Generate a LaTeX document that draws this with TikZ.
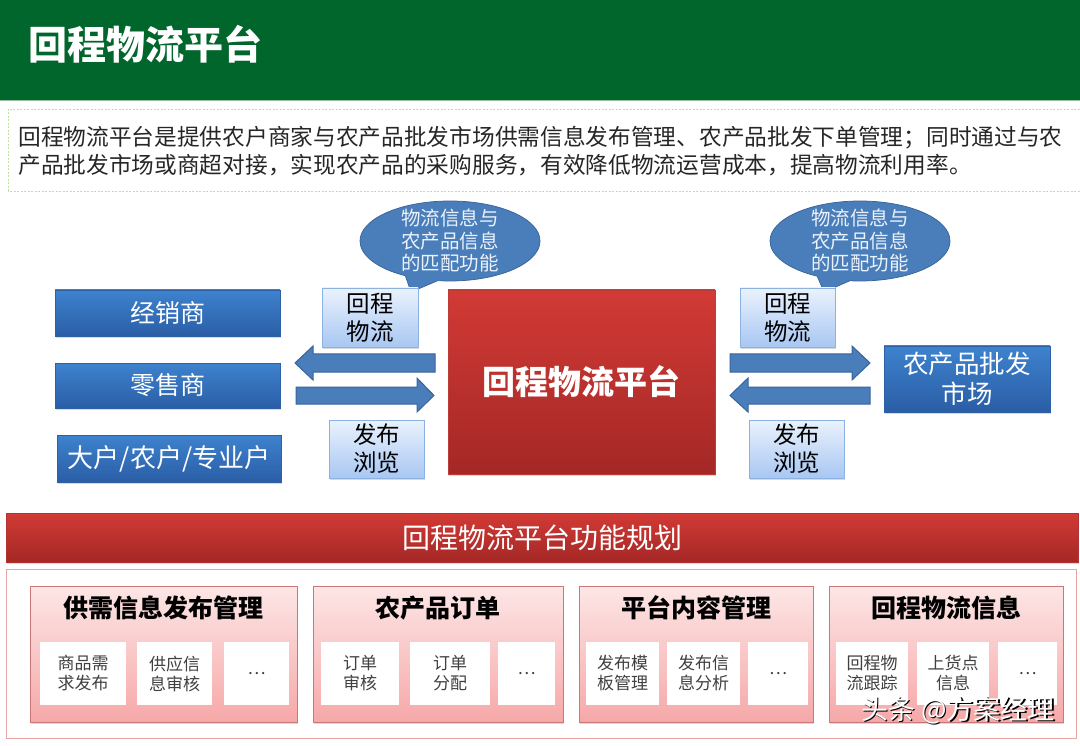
\documentclass[tikz,border=0pt]{standalone}
\usepackage{fontspec}
\setmainfont{Noto Sans CJK SC}
\usetikzlibrary{shapes.callouts,shadows}

\definecolor{hdgreen}{RGB}{0,130,62}
\definecolor{hddark}{RGB}{0,102,44}
\definecolor{dashgreen}{RGB}{196,222,160}
\definecolor{boxblue}{RGB}{62,130,206}
\definecolor{boxbluedk}{RGB}{42,94,166}
\definecolor{bordblue}{RGB}{46,96,164}
\definecolor{paleblue}{RGB}{234,242,253}
\definecolor{paleblue2}{RGB}{168,199,242}
\definecolor{bordpale}{RGB}{140,178,226}
\definecolor{bubfill}{RGB}{74,126,187}
\definecolor{bubline}{RGB}{56,100,154}
\definecolor{platred}{RGB}{210,58,53}
\definecolor{platreddk}{RGB}{164,40,38}
\definecolor{pinktop}{RGB}{253,230,230}
\definecolor{pinkbot}{RGB}{246,168,168}
\definecolor{pinkline}{RGB}{200,120,120}
\definecolor{panelline}{RGB}{232,165,165}
\definecolor{txtgray}{RGB}{64,64,64}

\tikzset{every picture/.style={line width=0.75pt}}
\tikzset{
  softshadow/.style={drop shadow={shadow xshift=1.2pt,shadow yshift=-1.8pt,opacity=.3}},
  rolebox/.style={draw=bordblue,top color=boxblue,bottom color=boxbluedk,text=white,
    inner sep=0pt,align=center,softshadow,font=\fontsize{25}{30}\selectfont},
  tagbox/.style={draw=bordpale,top color=paleblue,bottom color=paleblue2,text=black,
    inner sep=0pt,align=center,softshadow,font=\fontsize{23.5}{28}\selectfont},
  bubble/.style={ellipse callout,draw=bubline,fill=bubfill,inner sep=0pt,
    minimum width=180pt,minimum height=80pt,callout pointer arc=22},
  bubtext/.style={text={rgb,255:red,236;green,242;blue,250},align=center,
    font=\fontsize{19.5}{22.5}\selectfont},
  fatarrow/.style={draw=bubline,fill=bubfill,line width=1pt},
  groupbox/.style={draw=pinkline,top color=pinktop,bottom color=pinkbot,
    inner sep=0pt,softshadow},
  grouptitle/.style={font=\bfseries\fontsize{25}{30}\selectfont,text=black},
  itembox/.style={fill=white,inner sep=0pt,align=center,text=txtgray,
    font=\fontsize{17}{20}\selectfont,minimum height=63pt}
}

\begin{document}
\begin{tikzpicture}[x=1pt,y=1pt,yscale=-1,xscale=1]
\useasboundingbox (0,0) rectangle (1080,746);

%Header band
\shade[top color=hddark,middle color=hdgreen,bottom color=hddark] (0,0) rectangle (1080,100);
\draw[color={rgb,255:red,150;green,190;blue,160}] (0,100) -- (1080,100);
\node[anchor=west,text=white,font=\bfseries\fontsize{39}{44}\selectfont,inner sep=0pt] (title) at (28,44) {回程物流平台};

%Description box
\draw[dashgreen,dash pattern=on 2pt off 1.5pt] (8,109) rectangle (1090,191);
\node[anchor=west,align=left,inner sep=0pt,text={rgb,255:red,38;green,38;blue,38},
  font=\fontsize{22.7}{28}\selectfont] (desc) at (18,151)
  {回程物流平台是提供农户商家与农产品批发市场供需信息发布管理、农产品批发下单管理；同时通过与农\\
   产品批发市场或商超对接，实现农产品的采购服务，有效降低物流运营成本，提高物流利用率。};

%Roles on the left
\node[rolebox,minimum width=225pt,minimum height=46pt] (dealer) at (167.5,313) {经销商};
\node[rolebox,minimum width=225pt,minimum height=45pt] (retail) at (167.5,385.5) {零售商};
\node[rolebox,minimum width=224pt,minimum height=47pt,font=\fontsize{26}{30}\selectfont] (farmer) at (169,458.5) {大户/农户/专业户};

%Platform
\node[draw={rgb,255:red,190;green,60;blue,56},top color=platred,bottom color=platreddk,
  minimum width=267pt,minimum height=184pt,inner sep=0pt,softshadow,text=white,
  font=\bfseries\fontsize{33}{38}\selectfont] (plat) at (581.5,382) {回程物流平台};

%Market
\node[rolebox,minimum width=166pt,minimum height=66pt,font=\fontsize{25.5}{30}\selectfont] (market) at (967,379) {农产品批发\\市场};

%Callouts
\node[bubble,callout absolute pointer={(411,292)}] (lbub) at (450,241) {};
\node[bubtext] (lbubtxt) at (lbub.center) {物流信息与\\农产品信息\\的匹配功能};
\node[bubble,callout absolute pointer={(824,292)}] (rbub) at (860,241) {};
\node[bubtext] (rbubtxt) at (rbub.center) {物流信息与\\农产品信息\\的匹配功能};

%Tags
\node[tagbox,minimum width=96pt,minimum height=59pt] (ltrip) at (370,317.5) {回程\\物流};
\node[tagbox,minimum width=95pt,minimum height=59pt] (rtrip) at (787.5,317.5) {回程\\物流};
\node[tagbox,minimum width=95pt,minimum height=58pt] (lpub) at (376.5,449) {发布\\浏览};
\node[tagbox,minimum width=95pt,minimum height=58pt] (rpub) at (796.5,449) {发布\\浏览};

%Block arrows
\draw[fatarrow] (435,354) -- (313,354) -- (313,346) -- (295,363) -- (313,380) -- (313,372) -- (435,372) -- cycle;
\draw[fatarrow] (296,387) -- (417,387) -- (417,378) -- (434,395.5) -- (417,412) -- (417,404) -- (296,404) -- cycle;
\draw[fatarrow] (730,354) -- (852,354) -- (852,346) -- (870,363) -- (852,380) -- (852,372) -- (730,372) -- cycle;
\draw[fatarrow] (870,387) -- (748,387) -- (748,378) -- (730,395.5) -- (748,412) -- (748,404) -- (870,404) -- cycle;

%Function banner
\node[draw={rgb,255:red,180;green,50;blue,48},top color=platred,bottom color=platreddk,
  minimum width=1072pt,minimum height=49pt,inner sep=0pt,softshadow,text=white,
  font=\fontsize{28}{32}\selectfont] (banner) at (542,537.5) {回程物流平台功能规划};
\draw[panelline,fill=white] (6,569) rectangle (1076,738);

%Function groups
\node[groupbox,minimum width=267pt,minimum height=136pt] (g1) at (163.5,654) {};
\node[groupbox,minimum width=250pt,minimum height=136pt] (g2) at (438,654) {};
\node[groupbox,minimum width=234pt,minimum height=136pt] (g3) at (696,654) {};
\node[groupbox,minimum width=234pt,minimum height=136pt] (g4) at (946,654) {};
\node[grouptitle] (g1t) at (163.5,608) {供需信息发布管理};
\node[grouptitle] (g2t) at (438,608) {农产品订单};
\node[grouptitle] (g3t) at (696,608) {平台内容管理};
\node[grouptitle] (g4t) at (946,608) {回程物流信息};

%Items
\node[itembox,minimum width=86pt] (i11) at (83,673.5) {商品需\\求发布};
\node[itembox,minimum width=75pt] (i12) at (174.5,673.5) {供应信\\息审核};
\node[itembox,minimum width=65pt] (i13) at (256.5,673.5) {…};
\node[itembox,minimum width=78pt] (i21) at (360,673.5) {订单\\审核};
\node[itembox,minimum width=80pt] (i22) at (450,673.5) {订单\\分配};
\node[itembox,minimum width=57pt] (i23) at (526.5,673.5) {…};
\node[itembox,minimum width=73pt] (i31) at (622.5,673.5) {发布模\\板管理};
\node[itembox,minimum width=73pt] (i32) at (703.5,673.5) {发布信\\息分析};
\node[itembox,minimum width=60pt] (i33) at (778,673.5) {…};
\node[itembox,minimum width=72pt] (i41) at (872,673.5) {回程物\\流跟踪};
\node[itembox,minimum width=72pt] (i42) at (953,673.5) {上货点\\信息};
\node[itembox,minimum width=59pt] (i43) at (1027.5,673.5) {…};

%Watermark
\node[text=black,font=\fontsize{27}{30}\selectfont] (wmshadow) at (959.5,711.5) {头条 @方案经理};
\node[text=white,font=\fontsize{27}{30}\selectfont] (wm) at (958,710) {头条 @方案经理};

\end{tikzpicture}
\end{document}
